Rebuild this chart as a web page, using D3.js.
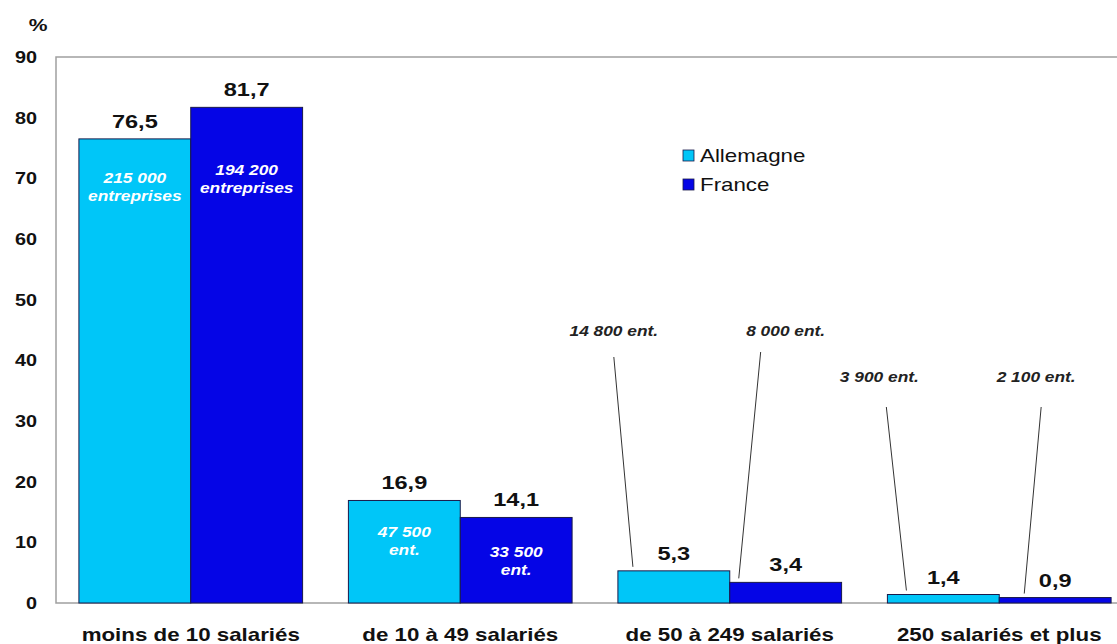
<!DOCTYPE html>
<html>
<head>
<meta charset="utf-8">
<script src="https://cdn.jsdelivr.net/npm/d3@7"></script>
<style>
    body { margin: 0; background: #fff; }
    svg { display: block; font-family: Arial, "Liberation Sans", sans-serif; }
    .frame { fill: none; stroke: #a0a0a0; stroke-width: 1.5; }
    .bar { stroke: #1a1a4a; stroke-width: 1; }
    .tick { font-size: 16px; font-weight: bold; fill: #111; }
    .value { font-size: 19px; font-weight: bold; fill: #111; }
    .category { font-size: 18px; font-weight: bold; fill: #111; }
    .inner { font-size: 14px; font-weight: bold; font-style: italic; fill: #fff; }
    .callout { font-size: 14px; font-weight: bold; font-style: italic; fill: #222; }
    .leader { stroke: #333; stroke-width: 1; }
    .legend { font-size: 18px; fill: #111; }
</style>
</head>
<body>
<script>
'use strict';

// categories and series
const categories = ['moins de 10 salariés', 'de 10 à 49 salariés', 'de 50 à 249 salariés', '250 salariés et plus'];
const seriesNames = ['Allemagne', 'France'];
const allemagneValues = [76.5, 16.9, 5.3, 1.4];
const franceValues = [81.7, 14.1, 3.4, 0.9];
const valueLabels = [['76,5', '16,9', '5,3', '1,4'], ['81,7', '14,1', '3,4', '0,9']];
const yTicks = [0, 10, 20, 30, 40, 50, 60, 70, 80, 90];

// firm counts written on / above the bars
const innerNotes = [
    {cat: 0, series: 0, lines: ['215 000', 'entreprises']},
    {cat: 0, series: 1, lines: ['194 200', 'entreprises']},
    {cat: 1, series: 0, lines: ['47 500', 'ent.']},
    {cat: 1, series: 1, lines: ['33 500', 'ent.']}
];
const calloutNotes = [
    {cat: 2, series: 0, text: '14 800 ent.'},
    {cat: 2, series: 1, text: '8 000 ent.'},
    {cat: 3, series: 0, text: '3 900 ent.'},
    {cat: 3, series: 1, text: '2 100 ent.'}
];

// layout (pixels)
const W = 1117, H = 644;
const plot = {left: 56, top: 57, right: 1134, bottom: 603};
const colors = {Allemagne: '#00c6f8', France: '#0505e6'};
const stretch = 1.24;                     // source text is horizontally stretched
const innerDy = [[44, 68], [37, 40]];     // first line offset below bar top
const calloutPos = [
    {textDx: -60, textY: 336, startY: 357, startDx: -60, endDx: 15},
    {textDx: 0, textY: 336, startY: 352, startDx: -25, endDx: 9},
    {textDx: -64, textY: 382, startY: 407, startDx: -57, endDx: 19},
    {textDx: -19, textY: 382, startY: 407, startDx: -14, endDx: 25}
];

const values = [allemagneValues, franceValues];

const svg = d3.select('body').append('svg')
    .attr('width', W)
    .attr('height', H);

const x0 = d3.scaleBand()
    .domain(categories)
    .range([plot.left, plot.right])
    .paddingInner(0.17)
    .paddingOuter(0.085);
const x1 = d3.scaleBand()
    .domain(seriesNames)
    .range([0, x0.bandwidth()]);
const y = d3.scaleLinear()
    .domain([0, 90])
    .range([plot.bottom, plot.top]);

function barX(cat, s) {
    return x0(categories[cat]) + x1(seriesNames[s]);
}

// horizontally stretched text, anchored at (x, y)
function stretchText(parent, x, yPos, str, cls, anchor) {
    return parent.append('text')
        .attr('class', cls)
        .attr('transform', 'translate(' + x + ',' + yPos + ') scale(' + stretch + ',1)')
        .attr('text-anchor', anchor || 'middle')
        .text(str);
}

// frame: left, top and bottom edges
svg.append('path')
    .attr('class', 'frame')
    .attr('d', 'M' + (W + 5) + ',' + y(90) + 'H' + plot.left + 'V' + y(0) + 'H' + (W + 5));

// y tick labels
yTicks.forEach((t) => {
    stretchText(svg, 37, y(t) + 6, String(t), 'tick', 'end');
});
stretchText(svg, 38, 31, '%', 'tick', 'middle').style('font-size', '17px');

// bars
seriesNames.forEach((name, s) => {
    svg.append('g')
        .selectAll('rect')
        .data(values[s])
        .join('rect')
        .attr('class', 'bar')
        .attr('x', (d, i) => barX(i, s))
        .attr('y', (d) => y(d))
        .attr('width', x1.bandwidth())
        .attr('height', (d) => y(0) - y(d))
        .attr('fill', colors[name]);
});

// value labels above bars
seriesNames.forEach((name, s) => {
    values[s].forEach((v, i) => {
        stretchText(svg, barX(i, s) + x1.bandwidth() / 2, y(v) - 11, valueLabels[s][i], 'value');
    });
});

// firm counts inside the tall bars
innerNotes.forEach((n) => {
    const cx = barX(n.cat, n.series) + x1.bandwidth() / 2;
    const top = y(values[n.series][n.cat]);
    n.lines.forEach((line, k) => {
        stretchText(svg, cx, top + innerDy[n.cat][n.series] + k * 18, line, 'inner');
    });
});

// firm counts with leader lines for the small bars
calloutNotes.forEach((n, k) => {
    const pos = calloutPos[k];
    const left = barX(n.cat, n.series);
    const cx = left + x1.bandwidth() / 2;
    stretchText(svg, cx + pos.textDx, pos.textY, n.text, 'callout');
    svg.append('line')
        .attr('class', 'leader')
        .attr('x1', cx + pos.startDx)
        .attr('y1', pos.startY)
        .attr('x2', left + pos.endDx)
        .attr('y2', y(values[n.series][n.cat]) - 4);
});

// category labels
categories.forEach((c) => {
    stretchText(svg, x0(c) + x0.bandwidth() / 2, 641, c, 'category');
});

// legend
const legend = svg.append('g').attr('transform', 'translate(683,150)');
seriesNames.forEach((name, i) => {
    legend.append('rect')
        .attr('x', 0)
        .attr('y', i * 29)
        .attr('width', 11)
        .attr('height', 11)
        .attr('fill', colors[name])
        .attr('stroke', '#1a1a4a')
        .attr('stroke-width', 0.8);
    stretchText(legend, 17, i * 29 + 12, name, 'legend', 'start');
});
</script>
</body>
</html>
